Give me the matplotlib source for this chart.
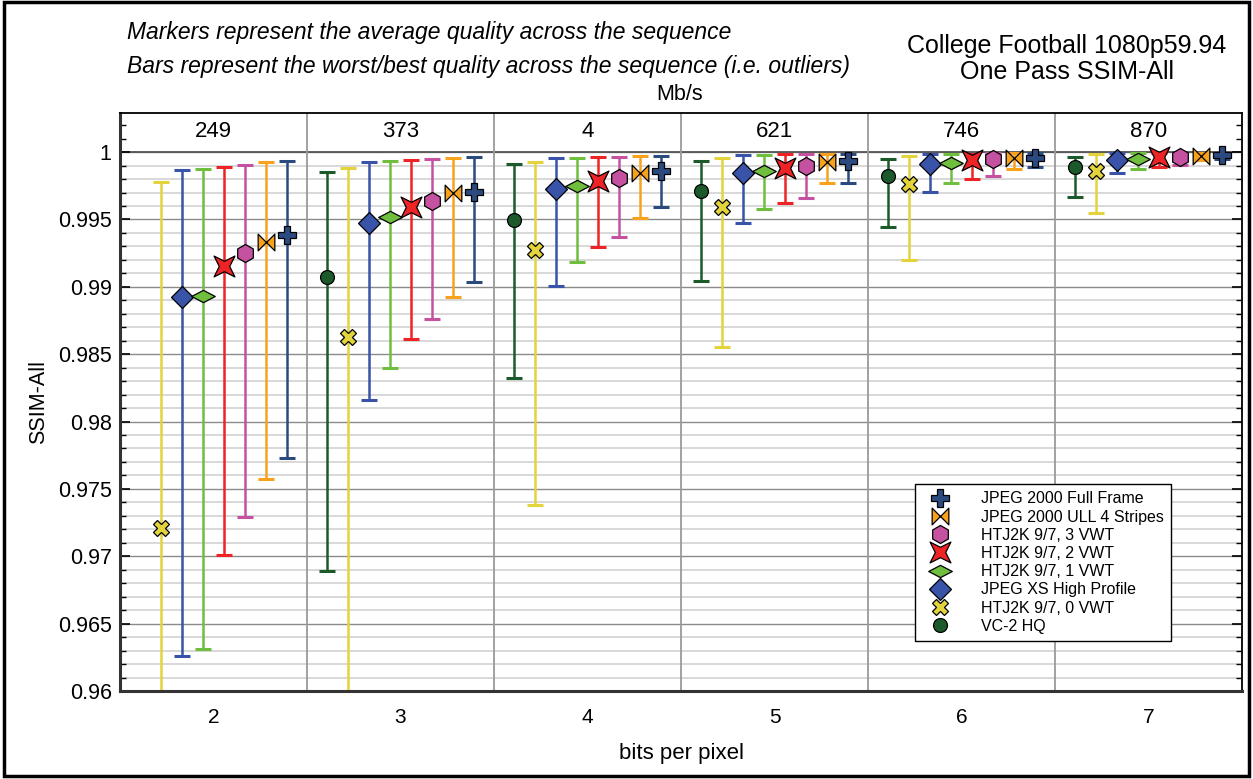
import numpy as np
import matplotlib
matplotlib.use("Agg")
import matplotlib.pyplot as plt
from matplotlib.path import Path
from matplotlib.lines import Line2D
from matplotlib.patches import Rectangle
from matplotlib.ticker import MultipleLocator, FuncFormatter

plt.rcParams['font.family'] = ['Liberation Sans', 'DejaVu Sans']

# ---- data -------------------------------------------------------------
bpp = [2, 3, 4, 5, 6, 7]
mbps = ['249', '373', '4', '621', '746', '870']

codecs = ['VC-2 HQ', 'HTJ2K 9/7, 0 VWT', 'JPEG XS High Profile', 'HTJ2K 9/7, 1 VWT',
          'HTJ2K 9/7, 2 VWT', 'HTJ2K 9/7, 3 VWT', 'JPEG 2000 ULL 4 Stripes',
          'JPEG 2000 Full Frame']

# average SSIM-All per codec, per bpp
vc2_avg = [np.nan, 0.99070, 0.99495, 0.99711, 0.99824, 0.99891]
htj0_avg = [0.97210, 0.98630, 0.99273, 0.99594, 0.99763, 0.99861]
jxs_avg = [0.98926, 0.99471, 0.99723, 0.99843, 0.99911, 0.99941]
htj1_avg = [0.98930, 0.99515, 0.99748, 0.99861, 0.99921, 0.99948]
htj2_avg = [0.99154, 0.99594, 0.99785, 0.99879, 0.99941, 0.99960]
htj3_avg = [0.99248, 0.99639, 0.99810, 0.99896, 0.99946, 0.99961]
ull_avg = [0.99334, 0.99698, 0.99847, 0.99928, 0.99953, 0.99970]
j2k_avg = [0.99384, 0.99706, 0.99861, 0.99933, 0.99958, 0.99976]

# worst frame
vc2_min = [np.nan, 0.96893, 0.98320, 0.99043, 0.99441, 0.99668]
htj0_min = [0.9550, 0.9560, 0.97378, 0.98553, 0.99199, 0.99545]
jxs_min = [0.96260, 0.98160, 0.99006, 0.99471, 0.99706, 0.99842]
htj1_min = [0.96310, 0.98399, 0.99186, 0.99575, 0.99767, 0.99871]
htj2_min = [0.97007, 0.98615, 0.99297, 0.99624, 0.99800, 0.99886]
htj3_min = [0.97289, 0.98761, 0.99371, 0.99659, 0.99822, 0.99904]
ull_min = [0.97573, 0.98922, 0.99513, 0.99772, 0.99871, 0.99940]
j2k_min = [0.97731, 0.99035, 0.99590, 0.99767, 0.99886, 0.99950]

# best frame
vc2_max = [np.nan, 0.99849, 0.99909, 0.99935, 0.99950, 0.99960]
htj0_max = [0.99780, 0.99879, 0.99928, 0.99953, 0.99970, 0.99983]
jxs_max = [0.99866, 0.99928, 0.99958, 0.99978, 0.99983, 0.99990]
htj1_max = [0.99876, 0.99933, 0.99958, 0.99978, 0.99983, 0.99990]
htj2_max = [0.99886, 0.99941, 0.99961, 0.99983, 0.99988, 0.99992]
htj3_max = [0.99904, 0.99946, 0.99965, 0.99985, 0.99990, 0.99992]
ull_max = [0.99928, 0.99958, 0.99973, 0.99989, 0.99992, 0.99994]
j2k_max = [0.99935, 0.99961, 0.99973, 0.99989, 0.99992, 0.99995]

avgs = [vc2_avg, htj0_avg, jxs_avg, htj1_avg, htj2_avg, htj3_avg, ull_avg, j2k_avg]
mins = [vc2_min, htj0_min, jxs_min, htj1_min, htj2_min, htj3_min, ull_min, j2k_min]
maxs = [vc2_max, htj0_max, jxs_max, htj1_max, htj2_max, htj3_max, ull_max, j2k_max]

# ---- styles ------------------------------------------------------------
wide_diamond = Path([(-1, 0), (0, 0.52), (1, 0), (0, -0.52), (-1, 0)],
                    [Path.MOVETO, Path.LINETO, Path.LINETO, Path.LINETO, Path.CLOSEPOLY])
star4 = Path([(-1, 1), (0, 0.5), (1, 1), (0.5, 0), (1, -1), (0, -0.5), (-1, -1),
              (-0.5, 0), (-1, 1)],
             [Path.MOVETO] + [Path.LINETO] * 7 + [Path.CLOSEPOLY])
bowtie = Path([(-1, -1), (-1, 1), (1, -1), (1, 1), (-1, -1)],
              [Path.MOVETO, Path.LINETO, Path.LINETO, Path.LINETO, Path.CLOSEPOLY])

colors = ['#1d5a2b', '#e2d43a', '#3853a8', '#6fbe3e', '#ee2325', '#c452a0',
          '#f8a21c', '#2b4b80']
markers = ['o', 'X', 'D', wide_diamond, star4, 'h', bowtie, 'P']
msizes = [10, 11, 11, 17, 15, 13, 12, 13]

fig = plt.figure(figsize=(12.53, 7.79), dpi=100)
ax = fig.add_axes([0.0958, 0.1130, 0.8954, 0.7419])

ytop = 1.0029
ax.set_xlim(1.5, 7.5)
ax.set_ylim(0.96, ytop)

# grid (only below the 1.0 line, header stays white)
for v in np.arange(0.961, 1.0, 0.001):
    if abs(round(v * 1000) % 5) > 0:
        ax.axhline(v, color='#d2d2d2', lw=1.2, zorder=0.5)
for v in np.arange(0.965, 1.0, 0.005):
    ax.axhline(v, color='#8a8a8a', lw=1.0, zorder=0.6)
ax.axhline(1.0, color='#555555', lw=1.3, zorder=0.7)
for xs in np.arange(2.5, 7.5, 1.0):
    ax.axvline(xs, color='#9a9a9a', lw=1.3, zorder=0.7)

offsets = (np.arange(8) - 3.5) * 0.112
x = np.array(bpp, dtype=float)
for i in range(8):
    a = np.array(avgs[i])
    lo = a - np.array(mins[i])
    hi = np.array(maxs[i]) - a
    ax.errorbar(x + offsets[i], a, yerr=[lo, hi], fmt='none', ecolor=colors[i],
                elinewidth=1.8, capsize=5.5, capthick=2.2, zorder=2 + i * 0.01)
    ax.plot(x + offsets[i], a, linestyle='none', marker=markers[i], ms=msizes[i],
            mfc=colors[i], mec='black', mew=0.9, zorder=3 + i * 0.01)

for xc, lab in zip(bpp, mbps):
    ax.text(xc, 1.00155, lab, ha='center', va='center', fontsize=16)

ax.set_xticks(bpp)
ax.set_xticklabels([str(b) for b in bpp])
ax.tick_params(axis='x', length=0, labelsize=15, pad=12)
ax.yaxis.set_major_locator(MultipleLocator(0.005))
ax.yaxis.set_minor_locator(MultipleLocator(0.001))
ax.yaxis.set_major_formatter(FuncFormatter(lambda v, p: '%g' % round(v, 4)))
ax.tick_params(axis='y', which='both', direction='in', right=True, labelsize=15.5, pad=6)
ax.tick_params(axis='y', which='major', length=7, width=1.2)
ax.tick_params(axis='y', which='minor', length=4, width=1.0)

for s in ['left', 'bottom']:
    ax.spines[s].set_linewidth(2.2)
    ax.spines[s].set_color('#333333')
ax.spines['top'].set_linewidth(1.3)
ax.spines['right'].set_linewidth(1.3)

ax.set_xlabel('bits per pixel', fontsize=16, labelpad=12)
ax.set_ylabel('SSIM-All', fontsize=15.5, labelpad=6)

handles = []
for i in range(7, -1, -1):
    handles.append(Line2D([], [], linestyle='none', marker=markers[i], ms=msizes[i],
                          mfc=colors[i], mec='black', mew=0.9, label=codecs[i]))
leg = ax.legend(handles=handles, loc='lower left', bbox_to_anchor=(0.7086, 0.0865),
                borderaxespad=0, fontsize=11.5, frameon=True, fancybox=False,
                edgecolor='black', framealpha=1, labelspacing=0.2, handletextpad=1.5,
                borderpad=0.45, handlelength=2.2)
leg.get_frame().set_linewidth(1.0)
leg.set_zorder(10)

fig.text(127 / 1253, 1 - 33 / 779, 'Markers represent the average quality across the sequence',
         style='italic', fontsize=16.5, ha='left', va='center')
fig.text(127 / 1253, 1 - 66 / 779,
         'Bars represent the worst/best quality across the sequence (i.e. outliers)',
         style='italic', fontsize=16.5, ha='left', va='center')
fig.text(680 / 1253, 1 - 95 / 779, 'Mb/s', fontsize=15.5, ha='center', va='center')
fig.text(1067 / 1253, 1 - 46 / 779, 'College Football 1080p59.94', fontsize=18,
         ha='center', va='center')
fig.text(1067 / 1253, 1 - 72 / 779, 'One Pass SSIM-All', fontsize=18,
         ha='center', va='center')

fig.patches.append(Rectangle((0.003, 0.004), 0.994, 0.993, transform=fig.transFigure,
                             fill=False, edgecolor='black', lw=2.5))

fig.savefig('out.png', dpi=100)
